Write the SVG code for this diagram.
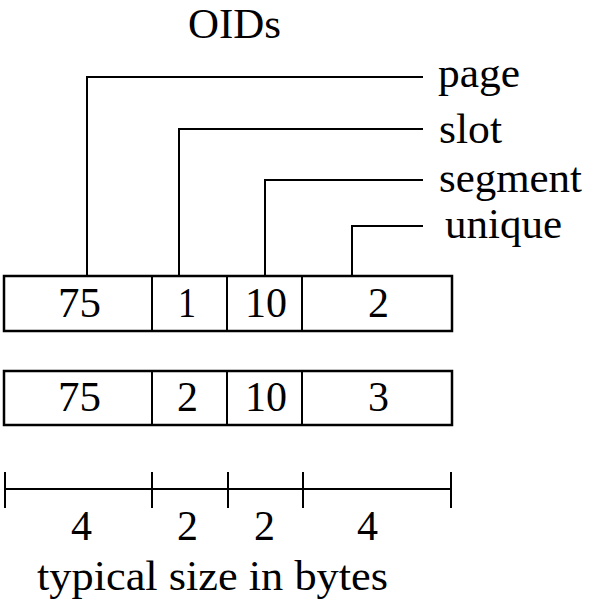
<svg xmlns="http://www.w3.org/2000/svg" width="593" height="600" viewBox="0 0 593 600">
<style>
text{font-family:"Liberation Serif","Times New Roman",serif;font-size:42px;fill:#000}
.ln{stroke:#000;stroke-width:2;fill:none}
.bx{stroke:#000;stroke-width:2.5;fill:#fff}
</style>
<rect width="593" height="600" fill="#fff"/>
<text id="title" x="188" y="38" font-size="40" textLength="93" lengthAdjust="spacingAndGlyphs">OIDs</text>
<g id="connectors">
<polyline class="ln" points="87,276 87,77 423,77"/>
<polyline class="ln" points="179,276 179,129 423,129"/>
<polyline class="ln" points="265,276 265,180 423,180"/>
<polyline class="ln" points="352,276 352,226 423,226"/>
</g>
<g id="labels">
<text x="438" y="87" textLength="82" lengthAdjust="spacingAndGlyphs">page</text>
<text x="439" y="143" textLength="63" lengthAdjust="spacingAndGlyphs">slot</text>
<text x="439" y="192" textLength="143" lengthAdjust="spacingAndGlyphs">segment</text>
<text x="445" y="238" textLength="117" lengthAdjust="spacingAndGlyphs">unique</text>
</g>
<g id="oid1">
<rect class="bx" x="4" y="276" width="448" height="55"/>
<line class="ln" x1="152" y1="276" x2="152" y2="331"/>
<line class="ln" x1="227" y1="276" x2="227" y2="331"/>
<line class="ln" x1="302" y1="276" x2="302" y2="331"/>
<text x="58" y="317" textLength="43" lengthAdjust="spacingAndGlyphs">75</text>
<text x="178" y="317" textLength="18" lengthAdjust="spacingAndGlyphs">1</text>
<text x="245" y="317" textLength="42" lengthAdjust="spacingAndGlyphs">10</text>
<text x="368" y="317" textLength="21" lengthAdjust="spacingAndGlyphs">2</text>
</g>
<g id="oid2">
<rect class="bx" x="4" y="371" width="448" height="54"/>
<line class="ln" x1="152" y1="371" x2="152" y2="425"/>
<line class="ln" x1="227" y1="371" x2="227" y2="425"/>
<line class="ln" x1="302" y1="371" x2="302" y2="425"/>
<text x="58" y="411" textLength="43" lengthAdjust="spacingAndGlyphs">75</text>
<text x="177" y="411" textLength="21" lengthAdjust="spacingAndGlyphs">2</text>
<text x="245" y="411" textLength="42" lengthAdjust="spacingAndGlyphs">10</text>
<text x="368" y="411" textLength="21" lengthAdjust="spacingAndGlyphs">3</text>
</g>
<g id="scale">
<line class="ln" x1="5" y1="489" x2="451" y2="489"/>
<line class="ln" x1="5" y1="472" x2="5" y2="508"/>
<line class="ln" x1="152" y1="472" x2="152" y2="508"/>
<line class="ln" x1="228" y1="472" x2="228" y2="508"/>
<line class="ln" x1="303" y1="472" x2="303" y2="508"/>
<line class="ln" x1="451" y1="472" x2="451" y2="508"/>
<text x="71" y="540" textLength="21" lengthAdjust="spacingAndGlyphs">4</text>
<text x="177" y="540" textLength="21" lengthAdjust="spacingAndGlyphs">2</text>
<text x="254" y="540" textLength="21" lengthAdjust="spacingAndGlyphs">2</text>
<text x="357" y="540" textLength="21" lengthAdjust="spacingAndGlyphs">4</text>
<text x="37" y="590" textLength="351" lengthAdjust="spacingAndGlyphs">typical size in bytes</text>
</g>
</svg>
